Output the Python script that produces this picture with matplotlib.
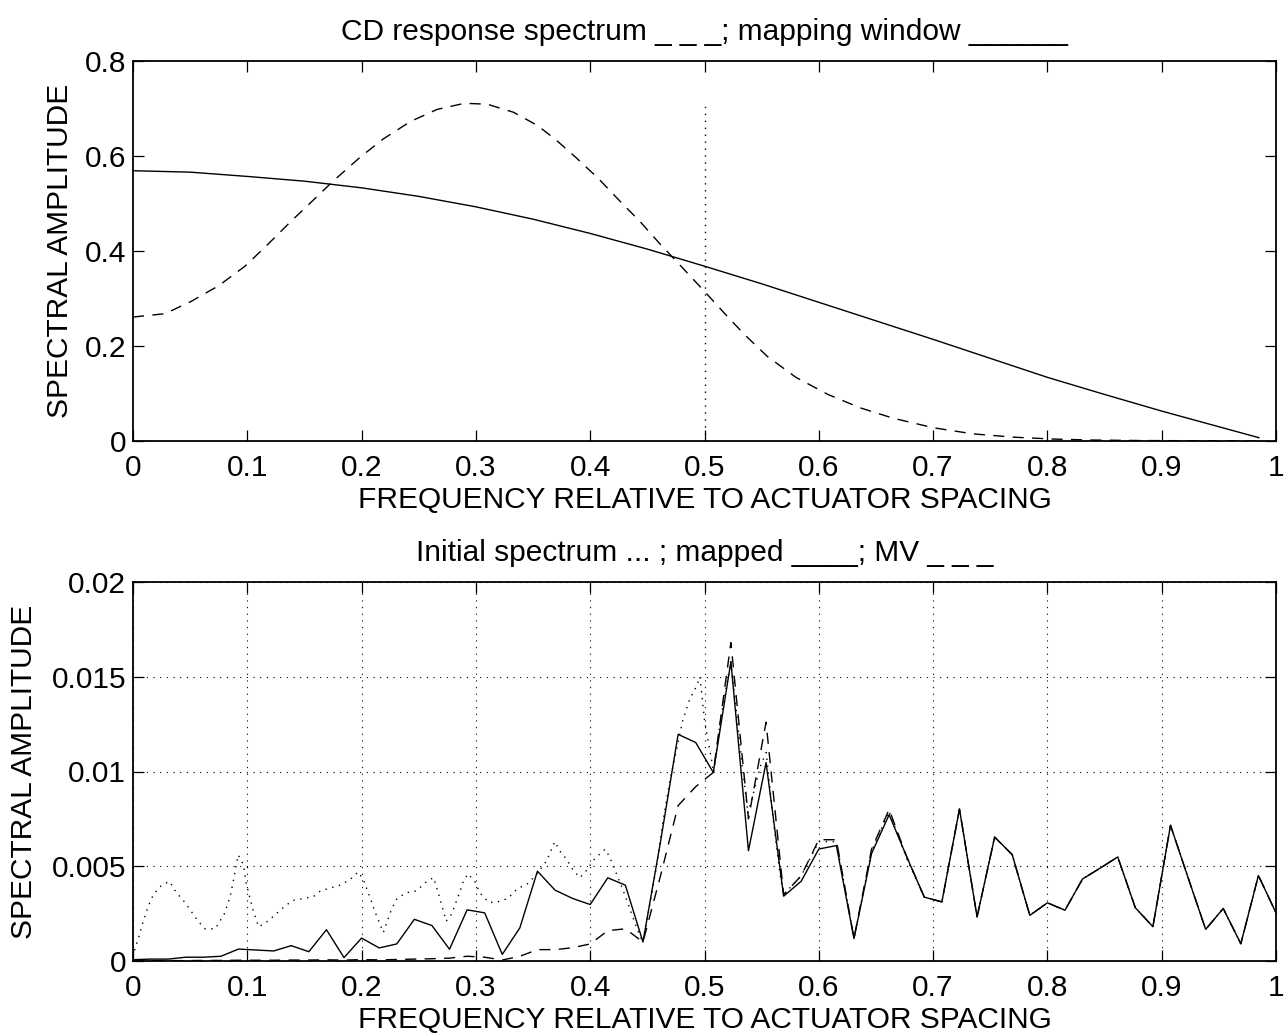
import numpy as np
import matplotlib
matplotlib.use("Agg")
import matplotlib.pyplot as plt

plt.rcParams['font.family'] = ['Liberation Sans', 'DejaVu Sans']

# ---------------- top panel data ----------------
win_f = [0.0, 0.05, 0.1, 0.15, 0.2, 0.25, 0.3, 0.35, 0.4, 0.45, 0.5, 0.55, 0.6,
         0.65, 0.7, 0.75, 0.8, 0.85, 0.9, 0.95, 0.985]
win_amp = [0.569, 0.566, 0.557, 0.547, 0.533, 0.515, 0.493, 0.467, 0.437, 0.404,
           0.368, 0.331, 0.292, 0.253, 0.214, 0.174, 0.134, 0.098, 0.063, 0.030, 0.007]

cd_f = [0.0, 0.028, 0.051, 0.075, 0.098, 0.118, 0.138, 0.159, 0.175, 0.199, 0.219,
        0.243, 0.266, 0.29, 0.31, 0.333, 0.354, 0.37, 0.387, 0.407, 0.424, 0.444,
        0.461, 0.481, 0.5, 0.517, 0.535, 0.555, 0.58, 0.608, 0.636, 0.665, 0.7,
        0.735, 0.771, 0.806, 0.84, 0.88, 0.93, 0.985]
cd_amp = [0.261, 0.268, 0.294, 0.327, 0.368, 0.414, 0.462, 0.51, 0.547, 0.598, 0.636,
          0.673, 0.698, 0.711, 0.709, 0.692, 0.664, 0.634, 0.598, 0.553, 0.51, 0.461,
          0.415, 0.364, 0.315, 0.27, 0.224, 0.178, 0.134, 0.098, 0.07, 0.048, 0.028,
          0.015, 0.008, 0.004, 0.002, 0.001, 0.0005, 0.0]

window_edge = 0.5
window_top = 0.71

# ---------------- bottom panel data ----------------
freq = np.linspace(0, 1, 66)
mapped = [0.00007, 0.0001, 0.0001, 0.0002, 0.0002, 0.00025, 0.00063, 0.00058, 0.00053,
          0.00081, 0.00049, 0.00165, 0.00018, 0.00121, 0.00069, 0.0009, 0.0022, 0.00187,
          0.00062, 0.0027, 0.00254, 0.00035, 0.00175, 0.00474, 0.00374, 0.0033, 0.00298,
          0.00439, 0.004, 0.001, 0.0063, 0.01196, 0.01153, 0.00995, 0.01579, 0.00582,
          0.01047, 0.00342, 0.00421, 0.00591, 0.00609, 0.00118, 0.00567, 0.00772, 0.0055,
          0.00337, 0.00312, 0.00802, 0.00233, 0.00654, 0.00561, 0.00241, 0.00307, 0.00268,
          0.00433, 0.0049, 0.00549, 0.00281, 0.00181, 0.00716, 0.0044, 0.00167, 0.00277,
          0.00091, 0.00451, 0.00254]
mv = [0.0, 0.00001, 0.00002, 0.00002, 0.00003, 0.00003, 0.00004, 0.00004, 0.00004,
      0.00005, 0.00005, 0.00006, 0.00005, 0.00007, 0.00006, 0.00008, 0.0001, 0.00012,
      0.00015, 0.00025, 0.0002, 0.00005, 0.00025, 0.0006, 0.0006, 0.0007, 0.0009,
      0.0016, 0.0017, 0.001, 0.0045, 0.0082, 0.0092, 0.00995, 0.0168, 0.0075,
      0.0126, 0.0035, 0.0045, 0.0064, 0.0064, 0.0012, 0.0059, 0.0080, 0.0055,
      0.00337, 0.00312, 0.00802, 0.00233, 0.00654, 0.00561, 0.00241, 0.00307, 0.00268,
      0.00433, 0.0049, 0.00549, 0.00281, 0.00181, 0.00716, 0.0044, 0.00167, 0.00277,
      0.00091, 0.00451, 0.00254]

init_f = [0.0, 0.0017, 0.0047, 0.009, 0.0134, 0.0178, 0.025, 0.032, 0.038, 0.044, 0.05,
          0.057, 0.063, 0.072, 0.08, 0.085, 0.088, 0.092, 0.0965, 0.099, 0.105, 0.11,
          0.118, 0.133, 0.14, 0.158, 0.164, 0.181, 0.19, 0.197, 0.2015, 0.207, 0.213,
          0.219, 0.226, 0.231, 0.239, 0.248, 0.257, 0.263, 0.268, 0.274, 0.279, 0.285,
          0.289, 0.293, 0.299, 0.3035, 0.311, 0.318, 0.328, 0.336, 0.346, 0.356, 0.362,
          0.369, 0.3735, 0.379, 0.385, 0.391, 0.397, 0.404, 0.413, 0.417, 0.423, 0.429,
          0.435, 0.441, 0.446, 0.452, 0.458, 0.464, 0.47, 0.476, 0.481, 0.487, 0.493,
          0.496, 0.5, 0.505, 0.508, 0.514, 0.52, 0.523, 0.528, 0.533, 0.538, 0.543,
          0.549, 0.554, 0.56, 0.566, 0.5692, 0.5846, 0.6, 0.6154, 0.6308, 0.6462, 0.6615,
          0.6769, 0.6923, 0.7077, 0.7231, 0.7385, 0.7538, 0.7692, 0.7846, 0.8, 0.8154,
          0.8308, 0.8462, 0.8615, 0.8769, 0.8923, 0.9077, 0.9231, 0.9385, 0.9538, 0.9692,
          0.9846, 1.0]
initial = [0.0002, 0.00065, 0.0012, 0.0021, 0.0029, 0.0035, 0.004, 0.0042, 0.0036, 0.0032,
           0.0027, 0.0021, 0.0017, 0.0017, 0.0025, 0.0034, 0.0043, 0.0056, 0.0051, 0.0041,
           0.0027, 0.0018, 0.0021, 0.0029, 0.0032, 0.0034, 0.0037, 0.004, 0.0043, 0.0047,
           0.0043, 0.0034, 0.0024, 0.0015, 0.0027, 0.0033, 0.0036, 0.0037, 0.0042, 0.0044,
           0.0034, 0.0021, 0.0025, 0.0035, 0.0042, 0.0046, 0.0042, 0.0036, 0.0031, 0.0031,
           0.0033, 0.0038, 0.0041, 0.0048, 0.0053, 0.0063, 0.0058, 0.0054, 0.0048, 0.0044,
           0.0048, 0.0054, 0.0059, 0.0055, 0.0046, 0.0037, 0.0027, 0.0017, 0.001, 0.0029,
           0.005, 0.0075, 0.0096, 0.0113, 0.0127, 0.0138, 0.0145, 0.0150, 0.0127, 0.011,
           0.00995, 0.0127, 0.0148, 0.0158, 0.0131, 0.0103, 0.0078, 0.0089, 0.0103, 0.011,
           0.0075, 0.0046, 0.0035, 0.0045, 0.0063, 0.0063, 0.0012, 0.0058, 0.0079, 0.0054,
           0.00337, 0.00312, 0.00802, 0.00233, 0.00654, 0.00561, 0.00241, 0.00307, 0.00268,
           0.00433, 0.0049, 0.00549, 0.00281, 0.00181, 0.00716, 0.0044, 0.00167, 0.00277,
           0.00091, 0.00451, 0.00254]

x_ticks = [0, 0.1, 0.2, 0.3, 0.4, 0.5, 0.6, 0.7, 0.8, 0.9, 1]
x_ticklabels = ['0', '0.1', '0.2', '0.3', '0.4', '0.5', '0.6', '0.7', '0.8', '0.9', '1']
top_yticks = [0, 0.2, 0.4, 0.6, 0.8]
top_yticklabels = ['0', '0.2', '0.4', '0.6', '0.8']
bot_yticks = [0, 0.005, 0.01, 0.015, 0.02]
bot_yticklabels = ['0', '0.005', '0.01', '0.015', '0.02']

FS = 21.5

fig = plt.figure(figsize=(12.84, 10.36), dpi=100)
W, H = 1284, 1036
ax1 = fig.add_axes([133 / W, 1 - 441 / H, 1143 / W, 380 / H])
ax2 = fig.add_axes([133 / W, 1 - 961 / H, 1143 / W, 379 / H])

def style(ax):
    for s in ax.spines.values():
        s.set_linewidth(1.3)
    ax.tick_params(direction='in', top=True, right=True, length=8, width=0.9,
                   labelsize=FS)
    ax.tick_params(axis='x', pad=9)
    ax.tick_params(axis='y', pad=5)
    ax.set_xlim(0, 1)
    ax.set_xticks(x_ticks)
    ax.set_xticklabels(x_ticklabels)

# top
ax1.plot(win_f, win_amp, color='black', lw=1.0)
ax1.plot(cd_f, cd_amp, color='black', lw=1.0, linestyle=(0, (8, 6)))
ax1.vlines(window_edge, 0, window_top, colors='black', lw=1.0, linestyles=(0, (1, 4)))
style(ax1)
ax1.set_ylim(0, 0.8)
ax1.set_yticks(top_yticks)
ax1.set_yticklabels(top_yticklabels)
ax1.set_title('CD response spectrum _ _ _; mapping window ______', fontsize=FS, pad=15)
ax1.set_xlabel('FREQUENCY RELATIVE TO ACTUATOR SPACING', fontsize=FS, labelpad=3)
ax1.set_ylabel('SPECTRAL AMPLITUDE', fontsize=FS)
ax1.yaxis.set_label_coords(-0.052, 0.5)

# bottom
ax2.grid(True, color='black', linestyle=(0, (1, 5)), linewidth=0.8)
ax2.plot(init_f, initial, color='black', lw=1.0, linestyle=(0, (1, 4)))
ax2.plot(freq, mapped, color='black', lw=1.0)
ax2.plot(freq, mv, color='black', lw=1.0, linestyle=(0, (8, 6)))
style(ax2)
ax2.set_ylim(0, 0.02)
ax2.set_yticks(bot_yticks)
ax2.set_yticklabels(bot_yticklabels)
ax2.set_title('Initial spectrum ... ; mapped ____; MV _ _ _', fontsize=FS, pad=15)
ax2.set_xlabel('FREQUENCY RELATIVE TO ACTUATOR SPACING', fontsize=FS, labelpad=3)
ax2.set_ylabel('SPECTRAL AMPLITUDE', fontsize=FS)
ax2.yaxis.set_label_coords(-0.083, 0.5)

fig.savefig('out.png', dpi=100)
